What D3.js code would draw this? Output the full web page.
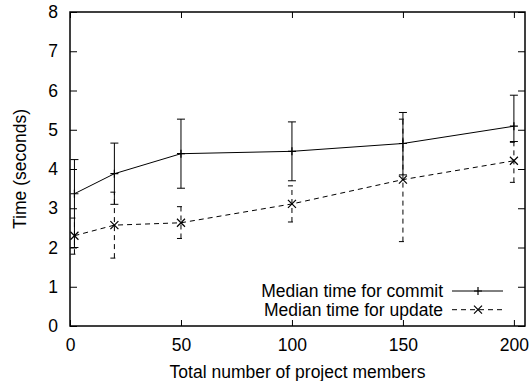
<!DOCTYPE html>
<html>
<head>
<meta charset="utf-8">
<script src="https://cdn.jsdelivr.net/npm/d3@7"></script>
<style>
  body { margin: 0; background: #fff; }
  text { font-family: "Liberation Sans", Arial, Helvetica, sans-serif; }
</style>
</head>
<body>
<svg id="chart" width="532" height="381"></svg>
<script>
// values
const members = [2, 20, 50, 100, 150, 200];
const commitMedian = [3.37, 3.88, 4.39, 4.45, 4.65, 5.09];
const commitLow    = [2.0, 3.1, 3.51, 3.7, 3.85, 4.7];
const commitHigh   = [4.24, 4.66, 5.27, 5.2, 5.44, 5.88];
const updateMedian = [2.3, 2.57, 2.63, 3.11, 3.73, 4.21];
const updateLow    = [1.83, 1.73, 2.23, 2.65, 2.15, 3.66];
const updateHigh   = [2.75, 3.41, 3.04, 3.57, 5.27, 4.68];
const xTicks = [0, 50, 100, 150, 200];
const yTicks = [0, 1, 2, 3, 4, 5, 6, 7, 8];
const seriesNames = ["Median time for commit", "Median time for update"];

const margin = {top: 12, right: 7, bottom: 55, left: 70};
const width = 532 - margin.left - margin.right;
const height = 381 - margin.top - margin.bottom;
const fontSize = 17.5;

const svg = d3.select("#chart");
const g = svg.append("g").attr("transform", `translate(${margin.left},${margin.top})`);

const x = d3.scaleLinear().domain([0, 205]).range([0, width]);
const y = d3.scaleLinear().domain([0, 8]).range([height, 0]);

// axes, gnuplot style: ticks pointing inward, mirrored on top and right
function styleAxis(sel) {
  sel.select(".domain").remove();
  sel.selectAll("line").attr("stroke", "#000");
  sel.selectAll("text").attr("font-size", fontSize).attr("fill", "#000")
    .style("font-family", '"Liberation Sans", Arial, Helvetica, sans-serif');
}
g.append("g").attr("transform", `translate(0,${height})`)
  .call(d3.axisBottom(x).tickValues(xTicks).tickSizeInner(-6).tickSizeOuter(0).tickPadding(13))
  .call(styleAxis);
g.append("g")
  .call(d3.axisLeft(y).tickValues(yTicks).tickSizeInner(-7).tickSizeOuter(0).tickPadding(12))
  .call(styleAxis);
g.append("g")
  .call(d3.axisTop(x).tickValues(xTicks).tickFormat("").tickSizeInner(-6).tickSizeOuter(0))
  .call(styleAxis);
g.append("g").attr("transform", `translate(${width},0)`)
  .call(d3.axisRight(y).tickValues(yTicks).tickFormat("").tickSizeInner(-7).tickSizeOuter(0))
  .call(styleAxis);

g.append("rect")
  .attr("width", width).attr("height", height)
  .attr("fill", "none").attr("stroke", "#000").attr("stroke-width", 1.5);

// axis titles
svg.append("text")
  .attr("x", margin.left + width / 2).attr("y", 378)
  .attr("text-anchor", "middle").attr("font-size", fontSize)
  .text("Total number of project members");
svg.append("text")
  .attr("transform", `translate(26,${margin.top + height / 2}) rotate(-90)`)
  .attr("text-anchor", "middle").attr("font-size", fontSize)
  .text("Time (seconds)");

function buildRows(med, lo, hi) {
  return members.map((m, i) => ({x: m, y: med[i], lo: lo[i], hi: hi[i]}));
}
const series = [
  {name: seriesNames[0], rows: buildRows(commitMedian, commitLow, commitHigh), dash: null, marker: "plus"},
  {name: seriesNames[1], rows: buildRows(updateMedian, updateLow, updateHigh), dash: "5,4", marker: "cross"}
];

const line = d3.line().x(d => x(d.x)).y(d => y(d.y));

function drawMarker(sel, type, cx, cy) {
  const s = 4;
  if (type === "plus") {
    sel.append("path").attr("d", `M${cx - s},${cy}H${cx + s}M${cx},${cy - s}V${cy + s}`)
      .attr("stroke", "#000").attr("stroke-width", 1.2).attr("fill", "none");
  } else {
    sel.append("path").attr("d", `M${cx - s},${cy - s}L${cx + s},${cy + s}M${cx - s},${cy + s}L${cx + s},${cy - s}`)
      .attr("stroke", "#000").attr("stroke-width", 1.2).attr("fill", "none");
  }
}

// update drawn first so commit sits on top
series.slice().reverse().forEach(s => {
  const sg = g.append("g");
  const bars = sg.selectAll(".err").data(s.rows).join("g").attr("class", "err");
  bars.append("path")
    .attr("d", d => `M${x(d.x)},${y(d.lo)}V${y(d.hi)}` +
      `M${x(d.x) - 4},${y(d.lo)}H${x(d.x) + 4}M${x(d.x) - 4},${y(d.hi)}H${x(d.x) + 4}`)
    .attr("stroke", "#000").attr("stroke-width", 1).attr("fill", "none")
    .attr("stroke-dasharray", s.dash);
  sg.append("path").datum(s.rows).attr("d", line)
    .attr("stroke", "#000").attr("stroke-width", 1).attr("fill", "none")
    .attr("stroke-dasharray", s.dash);
  s.rows.forEach(d => drawMarker(sg, s.marker, x(d.x), y(d.y)));
});

// legend
const legend = svg.append("g");
series.forEach((s, i) => {
  const ly = 291 + i * 18.7;
  legend.append("text")
    .attr("x", 443).attr("y", ly + 6)
    .attr("text-anchor", "end").attr("font-size", fontSize)
    .text(s.name);
  legend.append("path").attr("d", `M452,${ly}H503`)
    .attr("stroke", "#000").attr("stroke-width", 1).attr("fill", "none")
    .attr("stroke-dasharray", s.dash);
  drawMarker(legend, s.marker, 478, ly);
});
</script>
</body>
</html>
